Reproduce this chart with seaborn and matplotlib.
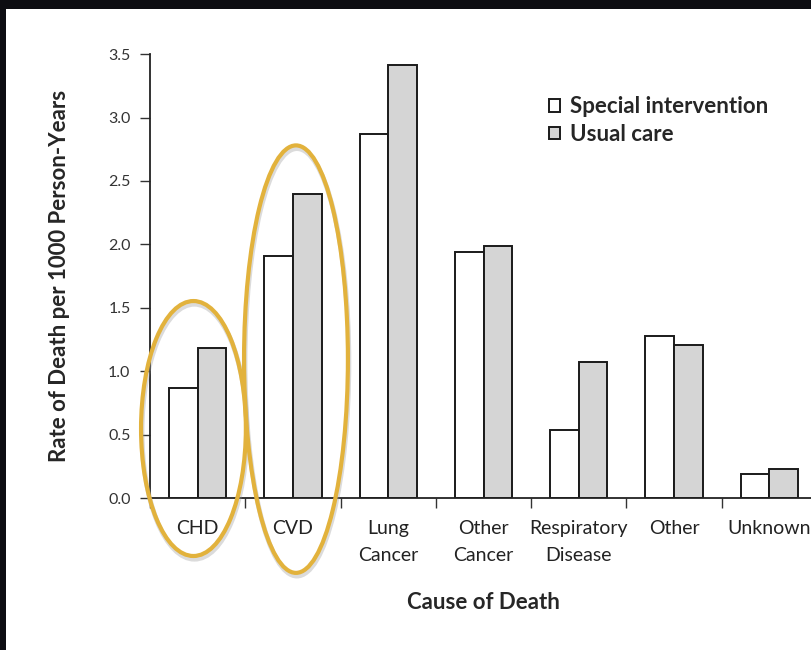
import numpy as np
import pandas as pd
import matplotlib
matplotlib.use('Agg')
import matplotlib.pyplot as plt
from matplotlib.patches import Ellipse, Rectangle
import seaborn as sns

# Values (rate of death per 1000 person-years)
causes = ['CHD', 'CVD', 'Lung\nCancer', 'Other\nCancer', 'Respiratory\nDisease', 'Other', 'Unknown']
special_intervention = [0.87, 1.91, 2.87, 1.94, 0.54, 1.28, 0.19]
usual_care = [1.18, 2.40, 3.41, 1.99, 1.07, 1.21, 0.23]
groups = ['Special intervention', 'Usual care']

df = pd.DataFrame({
    'Cause': causes * 2,
    'Group': [groups[0]] * len(causes) + [groups[1]] * len(causes),
    'Rate': special_intervention + usual_care,
})

sns.set_style('ticks')
plt.rcParams['font.family'] = ['Lato', 'DejaVu Sans']

fig = plt.figure(figsize=(8.11, 6.5), dpi=100)
fig.patch.set_facecolor('#0d0d12')
# white page inside the dark frame
fig.patches.append(Rectangle((6 / 811, 0), 1, 1 - 9 / 650, transform=fig.transFigure,
                             facecolor='white', edgecolor='none', zorder=-10))

ax = fig.add_axes([150 / 811, 0.2338, 667 / 811, 0.683])
ax.set_facecolor('none')

sns.barplot(data=df, x='Cause', y='Rate', hue='Group', order=causes, hue_order=groups,
            palette={groups[0]: 'white', groups[1]: '#d5d5d5'}, width=0.6,
            edgecolor='#1a1a1a', linewidth=1.4, saturation=1, ax=ax)

ax.set_xlim(-0.5, len(causes) - 0.5)
ax.set_ylim(0, 3.5)
ax.set_yticks(np.arange(0, 3.51, 0.5))
ax.set_yticklabels([f'{v:.1f}' for v in np.arange(0, 3.51, 0.5)], fontsize=11.5, color='#333333')
ax.tick_params(axis='y', direction='out', length=7, width=1, color='#333333', pad=7)
ax.tick_params(axis='x', which='major', length=0, pad=16, labelsize=14, colors='#222222')
ax.set_xticks(np.arange(-0.5, len(causes)), minor=True)
ax.tick_params(axis='x', which='minor', direction='out', length=7, width=1, color='#333333')
for lbl in ax.get_xticklabels():
    lbl.set_linespacing(1.7)

for side in ['top', 'right']:
    ax.spines[side].set_visible(False)
for side in ['left', 'bottom']:
    ax.spines[side].set_color('#222222')
    ax.spines[side].set_linewidth(1.3)

ax.set_xlabel('Cause of Death', fontsize=16, fontweight='bold', labelpad=20)
ax.set_ylabel('Rate of Death per 1000 Person-Years', fontsize=16, fontweight='bold')
ax.yaxis.set_label_coords(-0.12, 0.5)

handles, labels = ax.get_legend_handles_labels()
ax.legend(handles, labels, loc='upper left', bbox_to_anchor=(0.585, 0.925), frameon=False,
          prop={'weight': 'bold', 'size': 16}, handlelength=0.5, handleheight=0.5,
          handletextpad=0.45, labelspacing=0.3, borderaxespad=0)

# highlighted groups (hand-drawn ovals)
for cx, cy, w, h in [(-0.044, 0.548, 1.10, 2.01), (1.032, 1.095, 1.09, 3.37)]:
    shadow = Ellipse((cx + 0.01, cy - 0.025), w, h, facecolor='none', edgecolor='#999999',
                     alpha=0.35, linewidth=3.5, clip_on=False, zorder=5)
    ax.add_patch(shadow)
    oval = Ellipse((cx, cy), w, h, facecolor='none', edgecolor='#e2b23c',
                   linewidth=3, clip_on=False, zorder=6)
    ax.add_patch(oval)

fig.savefig('out.png', dpi=100)
